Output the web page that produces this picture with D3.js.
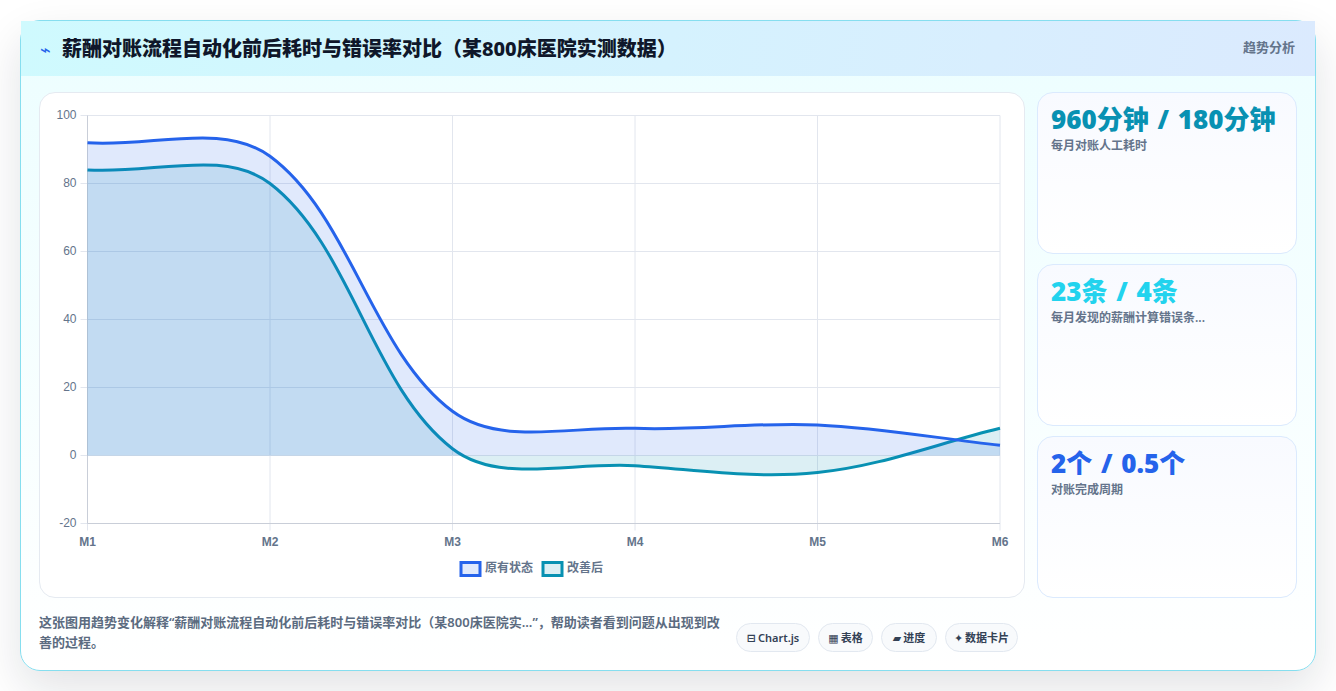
<!DOCTYPE html>
<html lang="zh-CN">
<head>
<meta charset="utf-8">
<title>薪酬对账流程自动化前后耗时与错误率对比</title>
<script src="https://cdn.jsdelivr.net/npm/d3@7"></script>
<style>
*{box-sizing:border-box}
html,body{margin:0;padding:0;width:1336px;height:691px;overflow:hidden;background:#fff;
  font-family:"Noto Sans","Noto Sans CJK SC",sans-serif}
.card{position:absolute;left:20px;top:20px;width:1296px;height:651px;border:1px solid #86deef;border-radius:20px;
  background:linear-gradient(180deg,#ecfeff 0%,#fff 100%);box-shadow:0 18px 45px rgba(15,23,42,.12)}
.head{position:absolute;left:0;top:0;width:1294px;height:55px;background:linear-gradient(100deg,#cffafe 0%,#dbeafe 100%)}
.head .icon{position:absolute;left:19px;top:19px;font:400 18px/20px "DejaVu Sans",sans-serif;color:#2563eb}
.head h1{position:absolute;left:41px;top:14px;margin:0;font-size:20px;line-height:28px;font-weight:800;color:#0f172a;white-space:nowrap}
.head .tag{position:absolute;right:20px;top:17px;font-size:13px;line-height:18px;font-weight:600;color:#64748b}
.panel{position:absolute;left:18px;top:71px;width:986px;height:506px;background:#fff;border:1px solid #e5eaf1;border-radius:16px}
.stat{position:absolute;left:1016px;width:260px;height:162px;border:1px solid #dbeafe;border-radius:16px;
  background:linear-gradient(180deg,#f8faff 0%,#fff 100%)}
.stat .val{position:absolute;left:13px;top:7px;font-size:26px;line-height:38px;font-weight:900;white-space:nowrap;word-spacing:2px}
.stat .lab{position:absolute;left:13px;top:44px;font-size:12px;line-height:17px;font-weight:600;color:#64748b;white-space:nowrap}
.note{position:absolute;left:18px;top:591px;width:690px;font-size:13px;line-height:20px;font-weight:600;color:#5b6b80}
.pills{position:absolute;top:602px;left:0}
.pill{position:absolute;top:0;height:29px;border:1px solid #e2e8f0;border-radius:15px;background:#f8fafc;
  font-size:11px;line-height:27px;font-weight:600;color:#334155;text-align:center;white-space:nowrap}
.pill .glyph{font-family:"DejaVu Sans",sans-serif;font-size:11px;margin-right:2px}
svg{position:absolute;left:0;top:0}
</style>
</head>
<body>
<div class="card">
  <div class="head">
    <span class="icon">⌁</span>
    <h1>薪酬对账流程自动化前后耗时与错误率对比（某800床医院实测数据）</h1>
    <span class="tag">趋势分析</span>
  </div>
  <div class="panel"></div>
  <div id="stats"></div>
  <div class="note">这张图用趋势变化解释“薪酬对账流程自动化前后耗时与错误率对比（某800床医院实...”，帮助读者看到问题从出现到改善的过程。</div>
  <div class="pills" id="pills"></div>
</div>
<svg id="chart" width="1336" height="691"></svg>
<script>
// 图表数据
const months = ["M1", "M2", "M3", "M4", "M5", "M6"];
const before = [92, 88, 13, 8, 9, 3];
const after = [84, 80, 2, -3, -5, 8];
const seriesNames = ["原有状态", "改善后"];
const seriesColors = ["#2563eb", "#0891b2"];
const yTicks = [-20, 0, 20, 40, 60, 80, 100];

// 右侧指标卡
const statValues = ["960分钟 / 180分钟", "23条 / 4条", "2个 / 0.5个"];
const statLabels = ["每月对账人工耗时", "每月发现的薪酬计算错误条...", "对账完成周期"];
const statColors = ["#0891b2", "#22d3ee", "#2563eb"];
const statTops = [71, 243, 415];

// 底部标签
const pillGlyphs = ["⊟", "▦", "▰", "✦"];
const pillLabels = ["Chart.js", "表格", "进度", "数据卡片"];
const pillLefts = [715, 797, 860, 924];
const pillWidths = [74, 55, 56, 73];

d3.select("#stats").selectAll("div.stat").data(statValues).join("div")
  .attr("class", "stat")
  .style("top", (d, i) => statTops[i] + "px")
  .each(function (d, i) {
    const card = d3.select(this);
    card.append("div").attr("class", "val").style("color", statColors[i]).text(d);
    card.append("div").attr("class", "lab").text(statLabels[i]);
  });

d3.select("#pills").selectAll("div.pill").data(pillLabels).join("div")
  .attr("class", "pill")
  .style("left", (d, i) => pillLefts[i] + "px")
  .style("width", (d, i) => pillWidths[i] + "px")
  .each(function (d, i) {
    const pill = d3.select(this);
    pill.append("span").attr("class", "glyph").text(pillGlyphs[i]);
    pill.append("span").text(d);
  });

// 三次贝塞尔样条，控制点按相邻点距离分配
function tensionSpline(context) {
  const tension = 0.35;
  let pts = [], inArea = false, afterFirst = false;
  return {
    areaStart() { inArea = true; afterFirst = false; },
    areaEnd() { context.closePath(); inArea = false; },
    lineStart() { pts = []; },
    point(x, y) { pts.push([+x, +y]); },
    lineEnd() {
      const n = pts.length, out = [], inn = [];
      for (let i = 0; i < n; i++) {
        const p = pts[i], a = pts[Math.max(i - 1, 0)], b = pts[Math.min(i + 1, n - 1)];
        const d01 = Math.hypot(p[0] - a[0], p[1] - a[1]);
        const d12 = Math.hypot(b[0] - p[0], b[1] - p[1]);
        const total = d01 + d12 || 1;
        const fa = tension * d01 / total, fb = tension * d12 / total;
        inn[i] = [p[0] - fa * (b[0] - a[0]), p[1] - fa * (b[1] - a[1])];
        out[i] = [p[0] + fb * (b[0] - a[0]), p[1] + fb * (b[1] - a[1])];
      }
      if (inArea && afterFirst) context.lineTo(pts[0][0], pts[0][1]);
      else context.moveTo(pts[0][0], pts[0][1]);
      for (let i = 1; i < n; i++) {
        context.bezierCurveTo(out[i - 1][0], out[i - 1][1], inn[i][0], inn[i][1], pts[i][0], pts[i][1]);
      }
      afterFirst = true;
    }
  };
}

const svg = d3.select("#chart");
const plot = { left: 87.5, right: 1000, top: 115.5, bottom: 523.5 };
const x = d3.scalePoint().domain(months).range([plot.left, plot.right]);
const y = d3.scaleLinear().domain([-20, 100]).range([plot.bottom, plot.top]);
const gridColor = "#e2e6ee", axisColor = "#c9ced8", tickColor = "#64748b";

// 坐标轴与网格
const gx = svg.append("g").attr("transform", `translate(0,${plot.top})`)
  .call(d3.axisBottom(x).offset(0).tickSize(plot.bottom - plot.top + 7).tickPadding(7));
const gy = svg.append("g").attr("transform", `translate(${plot.right},0)`)
  .call(d3.axisLeft(y).offset(0).tickValues(yTicks).tickFormat(String).tickSize(plot.right - plot.left + 7).tickPadding(4));
gx.select(".domain").remove();
gy.select(".domain").remove();
gx.selectAll("line").attr("stroke", gridColor);
gy.selectAll("line").attr("stroke", gridColor);
gx.selectAll("text").attr("fill", tickColor)
  .style("font", '700 12px "Liberation Sans",sans-serif');
gy.selectAll("text").attr("fill", tickColor)
  .style("font", '12px "Liberation Sans",sans-serif');
svg.append("line").attr("x1", plot.left).attr("x2", plot.left).attr("y1", plot.top).attr("y2", plot.bottom).attr("stroke", axisColor);
svg.append("line").attr("x1", plot.left).attr("x2", plot.right).attr("y1", plot.bottom).attr("y2", plot.bottom).attr("stroke", axisColor);

// 面积与折线：后一个系列先画，使第一个系列位于上层
const area = d3.area().x((d, i) => x(months[i])).y0(y(0)).y1(d => y(d)).curve(tensionSpline);
const line = d3.line().x((d, i) => x(months[i])).y(d => y(d)).curve(tensionSpline);
[after, before].forEach((values, k) => {
  const color = seriesColors[1 - k];
  svg.append("path").attr("d", area(values)).attr("fill", color).attr("fill-opacity", 0.14);
  svg.append("path").attr("d", line(values)).attr("fill", "none").attr("stroke", color).attr("stroke-width", 3);
});

// 图例
const legendX = [461, 543];
const legend = svg.append("g").selectAll("g").data(seriesNames).join("g")
  .attr("transform", (d, i) => `translate(${legendX[i]},562.5)`);
legend.append("rect").attr("width", 19).attr("height", 13)
  .attr("fill", (d, i) => seriesColors[i]).attr("fill-opacity", 0.14)
  .attr("stroke", (d, i) => seriesColors[i]).attr("stroke-width", 3);
legend.append("text").attr("x", 24).attr("y", 9.5).attr("fill", "#64748b")
  .style("font", '600 12px "Noto Sans","Noto Sans CJK SC",sans-serif').text(d => d);
</script>
</body>
</html>
